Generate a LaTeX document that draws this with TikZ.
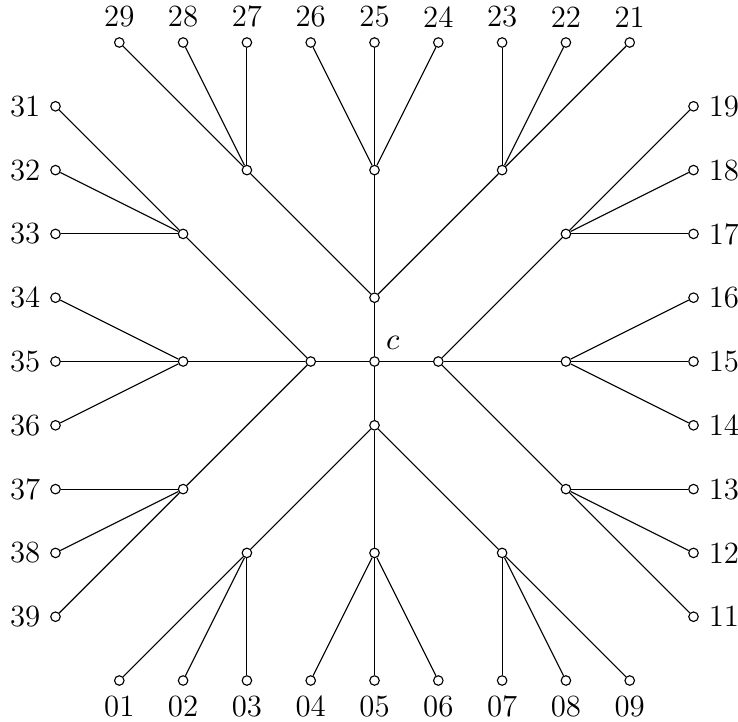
\documentclass[tikz,border=0pt]{standalone}
\begin{document}
\begin{tikzpicture}[x=0.8cm,y=0.8cm,
  every label/.style={font=\fontsize{11}{13}\selectfont},
  vtx/.style={circle,draw,fill=white,inner sep=0pt,minimum size=3.4pt},
  link/.style={draw,line width=0.4pt}]
\useasboundingbox (-5.870,-5.635) rectangle (5.697,5.666);
% centre and inner nodes
\node[vtx,label={[label distance=-1pt]45:$c$}] (c) at (0,0) {};
\node[vtx] (T) at (0,1) {};
\node[vtx] (B) at (0,-1) {};
\node[vtx] (L) at (-1,0) {};
\node[vtx] (R) at (1,0) {};
% hubs
\node[vtx] (T1) at (-2,3) {};
\node[vtx] (T2) at (0,3) {};
\node[vtx] (T3) at (2,3) {};
\node[vtx] (B1) at (-2,-3) {};
\node[vtx] (B2) at (0,-3) {};
\node[vtx] (B3) at (2,-3) {};
\node[vtx] (L1) at (-3,2) {};
\node[vtx] (L2) at (-3,0) {};
\node[vtx] (L3) at (-3,-2) {};
\node[vtx] (R1) at (3,2) {};
\node[vtx] (R2) at (3,0) {};
\node[vtx] (R3) at (3,-2) {};
% leaves
\foreach \x/\n in {-4/29,-3/28,-2/27,-1/26,0/25,1/24,2/23,3/22,4/21}
  \node[vtx,label=above:\n] (l\n) at (\x,5) {};
\foreach \x/\n in {-4/01,-3/02,-2/03,-1/04,0/05,1/06,2/07,3/08,4/09}
  \node[vtx,label=below:\n] (l\n) at (\x,-5) {};
\foreach \y/\n in {4/31,3/32,2/33,1/34,0/35,-1/36,-2/37,-3/38,-4/39}
  \node[vtx,label=left:\n] (l\n) at (-5,\y) {};
\foreach \y/\n in {4/19,3/18,2/17,1/16,0/15,-1/14,-2/13,-3/12,-4/11}
  \node[vtx,label=right:\n] (l\n) at (5,\y) {};
% edges
\foreach \v in {T,B,L,R} \path[link] (c) -- (\v);
\foreach \v in {T1,T2,T3} \path[link] (T) -- (\v);
\foreach \v in {B1,B2,B3} \path[link] (B) -- (\v);
\foreach \v in {L1,L2,L3} \path[link] (L) -- (\v);
\foreach \v in {R1,R2,R3} \path[link] (R) -- (\v);
\foreach \h/\p/\q/\r in {T1/29/28/27,T2/26/25/24,T3/23/22/21,
    B1/01/02/03,B2/04/05/06,B3/07/08/09,
    L1/31/32/33,L2/34/35/36,L3/37/38/39,
    R1/19/18/17,R2/16/15/14,R3/13/12/11}
  {\path[link] (\h) -- (l\p); \path[link] (\h) -- (l\q); \path[link] (\h) -- (l\r);}
\end{tikzpicture}
\end{document}
